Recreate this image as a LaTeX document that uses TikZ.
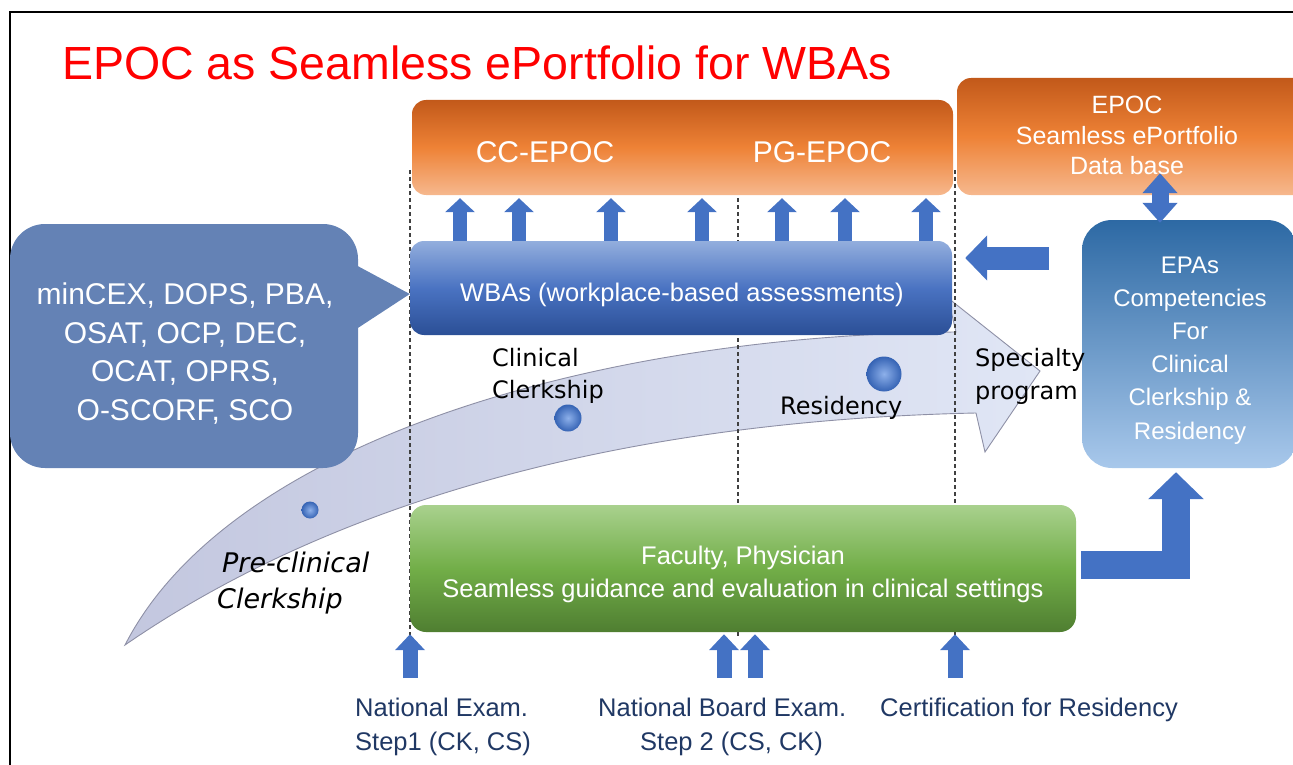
\documentclass[tikz,border=0pt]{standalone}
\usepackage{fontspec}
\setmainfont{Liberation Sans}
\newfontfamily\dejavu{DejaVu Sans}
\usetikzlibrary{arrows.meta,calc}

\definecolor{arrowblue}{HTML}{4472C4}
\definecolor{navy}{HTML}{203864}
\definecolor{titlered}{HTML}{FF0000}
\definecolor{orTop}{HTML}{C2591A}
\definecolor{orMid}{HTML}{EE8236}
\definecolor{orBot}{HTML}{F6B88E}
\definecolor{wbTop}{HTML}{93AEDD}
\definecolor{wbMid}{HTML}{4A73C2}
\definecolor{wbBot}{HTML}{2B4F96}
\definecolor{epTop}{HTML}{2D69A4}
\definecolor{epBot}{HTML}{A8C8EB}
\definecolor{gnTop}{HTML}{A9D18E}
\definecolor{gnMid}{HTML}{72AE48}
\definecolor{gnBot}{HTML}{4F7E31}
\definecolor{callfill}{HTML}{6482B5}
\definecolor{bandL}{HTML}{C3C7DF}
\definecolor{bandR}{HTML}{E0E6F5}
\definecolor{bandline}{HTML}{8E90A6}
\definecolor{guidegray}{HTML}{404040}
\definecolor{dotlight}{HTML}{8DB0EA}
\definecolor{dotdark}{HTML}{3563B4}

\newcommand\fsz[1]{\fontsize{#1}{#1}\selectfont}

\begin{document}
\begin{tikzpicture}[x=1pt,y=-1pt,
  panel/.style={rectangle, inner sep=0pt, draw=none, rounded corners=#1},
  panel/.default=14pt,
  orange/.style={top color=orTop, bottom color=orBot, middle color=orMid},
  boxtext/.style={anchor=base, text=white, inner sep=0pt},
  blacklabel/.style={anchor=base west, inner sep=0pt, font=\dejavu\fsz{24}},
  navylabel/.style={anchor=base west, inner sep=0pt, text=navy, font=\fsz{25.5}},
  guide/.style={draw=guidegray, dash pattern=on 4pt off 3pt, line width=1.1pt},
  uparr/.style={draw=arrowblue, line width=14pt, -{Triangle[length=14pt,width=29pt]}},
  botarr/.style={draw=arrowblue, line width=15pt, -{Triangle[length=16pt,width=29pt]}},
  leftarr/.style={draw=arrowblue, line width=23pt, -{Triangle[length=22pt,width=44pt]}},
  dblarr/.style={draw=arrowblue, line width=17pt,
    {Triangle[length=20pt,width=34pt]}-{Triangle[length=20pt,width=34pt]}},
  elbowarr/.style={draw=arrowblue, line width=28pt, line join=miter,
    -{Triangle[length=27pt,width=54pt]}},
  dot/.style={circle, inner sep=0pt, inner color=dotlight, outer color=dotdark}
]
\useasboundingbox (0,0) rectangle (1293,765);

% slide frame
\draw[line width=2pt] (1300,12) -- (10,12) -- (10,770);

% curved progression arrow
\draw[left color=bandL, right color=bandR, draw=bandline, line width=0.9pt]
  (125,645) .. controls (230,440) and (600,335) .. (956,332)
  -- (948,298) -- (1040,371) -- (985,452) -- (976,413)
  .. controls (650,420) and (350,490) .. (125,645) -- cycle;

% phase boundaries
\foreach \gx in {410,738,955}
  \draw[guide] (\gx,170) -- (\gx,636);

% boxes
\node[panel, orange, minimum width=541pt, minimum height=95pt] (epocbar) at (682.5,147.5) {};
\node[panel, orange, minimum width=350pt, minimum height=117pt] (epocdb) at (1132,136.5) {};
\node[panel, top color=wbTop, bottom color=wbBot, middle color=wbMid,
      minimum width=542pt, minimum height=94pt] (wba) at (681,288) {};
\node[panel=16pt, top color=gnTop, bottom color=gnBot, middle color=gnMid,
      minimum width=666pt, minimum height=127pt] (faculty) at (743,568.5) {};
\node[panel=30pt, top color=epTop, bottom color=epBot,
      minimum width=215pt, minimum height=248pt] (epa) at (1189.5,344) {};

% speech bubble listing the assessment tools
\node[panel=35pt, fill=callfill, minimum width=348pt, minimum height=244pt] (callout) at (184,346) {};
\fill[callfill] ($(callout.east |- 0,262)+(-8,0)$) -- (wba.west |- 0,294)
  -- ($(callout.east |- 0,333)+(-8,0)$) -- cycle;

% milestones on the curved arrow
\node[dot, minimum size=17pt] (dotpre) at (310,510) {};
\node[dot, minimum size=27pt] (dotcc) at (568,418) {};
\node[dot, minimum size=35pt] (dotres) at (884,374) {};

% arrows
\foreach \ax in {460,519,611,702,782,845,926}
  \draw[uparr, shorten >=3pt] (wba.north -| \ax,0) -- (epocbar.south -| \ax,0);
\draw[leftarr, shorten >=13pt] ($(epa.west |- 0,258)+(-33,0)$) -- (wba.east |- 0,258);
\draw[dblarr] ($(epocdb.south -| 1160,0)+(0,-22)$) -- ($(epa.north -| 1160,0)+(0,3)$);
\draw[elbowarr] ($(faculty.east |- 0,565)+(5,0)$) -| ($(epa.south -| 1176,0)+(0,4)$);
\foreach \bx/\bn in {410/a,724/b,755/c,955/d} {
  \coordinate (tail\bn) at (\bx,678);
  \draw[botarr] (tail\bn) -- ($(faculty.south -| tail\bn)+(0,2)$);
}

% title
\node[anchor=base west, text=titlered, inner sep=0pt, font=\fsz{46.5}] (title) at (62,80)
  {EPOC as Seamless ePortfolio for WBAs};

% box texts
\node[boxtext, font=\fsz{30}] (cctext) at (545,163) {CC-EPOC};
\node[boxtext, font=\fsz{30}] (pgtext) at (822,163) {PG-EPOC};
\node[boxtext, font=\fsz{25}] (dbL1) at (1127,114) {EPOC};
\node[boxtext, font=\fsz{25}] (dbL2) at (1127,145) {Seamless ePortfolio};
\node[boxtext, font=\fsz{25}] (dbL3) at (1127,175) {Data base};
\node[boxtext, font=\fsz{25.5}] (wbatext) at (682,301) {WBAs (workplace-based assessments)};
\node[boxtext, font=\fsz{30}] (callL1) at (185,304) {minCEX, DOPS, PBA,};
\node[boxtext, font=\fsz{30}] (callL2) at (185,343) {OSAT, OCP, DEC,};
\node[boxtext, font=\fsz{30}] (callL3) at (185,381) {OCAT, OPRS,};
\node[boxtext, font=\fsz{30}] (callL4) at (185,420) {O-SCORF, SCO};
\node[boxtext, font=\fsz{24}] (epaL1) at (1190,273.5) {EPAs};
\node[boxtext, font=\fsz{24}] (epaL2) at (1190,306.5) {Competencies};
\node[boxtext, font=\fsz{24}] (epaL3) at (1190,339.5) {For};
\node[boxtext, font=\fsz{24}] (epaL4) at (1190,372.5) {Clinical};
\node[boxtext, font=\fsz{24}] (epaL5) at (1190,405.5) {Clerkship \&};
\node[boxtext, font=\fsz{24}] (epaL6) at (1190,439.5) {Residency};
\node[boxtext, font=\fsz{25.5}] (facL1) at (743,564) {Faculty, Physician};
\node[boxtext, font=\fsz{25.5}] (facL2) at (743,597) {Seamless guidance and evaluation in clinical settings};

% phase labels along the curved arrow
\node[blacklabel] (ccL1) at (492,366) {Clinical};
\node[blacklabel] (ccL2) at (492,398) {Clerkship};
\node[blacklabel] (resL) at (780,414) {Residency};
\node[blacklabel] (spL1) at (975,366) {Specialty};
\node[blacklabel] (spL2) at (975,399) {program};
\node[blacklabel, font=\dejavu\itshape\fsz{27}] (preL1) at (222,572) {Pre-clinical};
\node[blacklabel, font=\dejavu\itshape\fsz{27}] (preL2) at (217,608) {Clerkship};

% examinations
\node[navylabel] (exam1a) at (355,716) {National Exam.};
\node[navylabel] (exam1b) at (355,750) {Step1 (CK, CS)};
\node[navylabel] (exam2a) at (598,716) {National Board Exam.};
\node[navylabel] (exam2b) at (640,750) {Step 2 (CS, CK)};
\node[navylabel] (cert) at (880,716) {Certification for Residency};
\end{tikzpicture}
\end{document}
